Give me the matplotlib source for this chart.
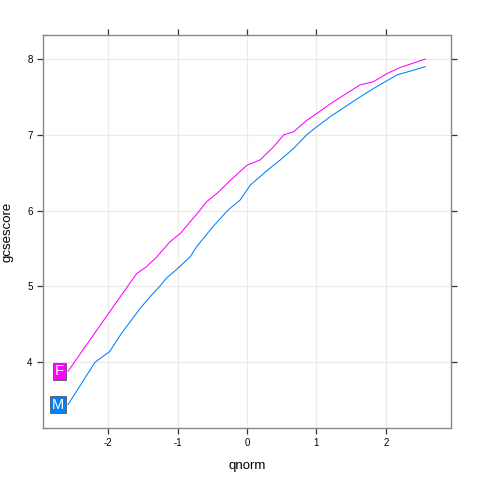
import matplotlib
matplotlib.use('Agg')
import matplotlib.pyplot as plt

plt.rcParams['font.family'] = ['Liberation Sans', 'DejaVu Sans']

# quantile points (qnorm, gcsescore)
f_q = [-2.58, -1.83, -1.59, -1.45, -1.30, -1.11, -0.96, -0.84, -0.70, -0.58,
       -0.43, -0.24, 0.00, 0.19, 0.38, 0.53, 0.67, 0.86, 1.08, 1.25,
       1.44, 1.63, 1.82, 2.02, 2.21, 2.57]
f_score = [3.88, 4.86, 5.17, 5.26, 5.39, 5.59, 5.70, 5.83, 5.98, 6.12,
           6.23, 6.40, 6.60, 6.67, 6.84, 7.00, 7.04, 7.19, 7.33, 7.44,
           7.55, 7.66, 7.70, 7.81, 7.89, 8.00]

m_q = [-2.58, -2.19, -1.98, -1.81, -1.54, -1.40, -1.26, -1.16, -1.02, -0.82,
       -0.73, -0.49, -0.27, -0.10, 0.05, 0.29, 0.48, 0.67, 0.86, 1.01,
       1.20, 1.53, 1.63, 1.82, 2.16, 2.57]
m_score = [3.44, 4.00, 4.14, 4.38, 4.71, 4.86, 5.00, 5.11, 5.22, 5.39,
           5.52, 5.79, 6.01, 6.14, 6.34, 6.53, 6.67, 6.82, 7.00, 7.11,
           7.24, 7.44, 7.50, 7.61, 7.79, 7.90]

groups = ['F', 'M']
colors = ['#FF00FF', '#0080FF']
xticks = [-2, -1, 0, 1, 2]
yticks = [4, 5, 6, 7, 8]

fig = plt.figure(figsize=(4.8, 4.8), dpi=100)
ax = fig.add_axes([0.0896, 0.1083, 0.85, 0.8187])

for g, xs, ys, c in zip(groups, [f_q, m_q], [f_score, m_score], colors):
    ax.plot(xs, ys, color=c, lw=0.75, zorder=3)
    ax.annotate(g, (xs[0], ys[0]), xytext=(-3, 0), textcoords='offset points',
                ha='right', va='center', color='white', fontsize=10.5,
                bbox=dict(boxstyle='square,pad=0.12', fc=c, ec='#555555', lw=0.6),
                zorder=4)

ax.set_xlim(-2.94, 2.94)
ax.set_ylim(3.132, 8.317)
ax.set_xticks(xticks)
ax.set_yticks(yticks)
ax.set_xticklabels([str(v) for v in xticks])
ax.set_yticklabels([str(v) for v in yticks])
ax.grid(True, color='#ebebeb', lw=0.9, zorder=0)
ax.set_axisbelow(True)

for s in ax.spines.values():
    s.set_color('#888888')
    s.set_linewidth(1.0)
ax.tick_params(direction='out', length=4, width=0.9, color='#333333',
               labelsize=7, top=True, right=True, labeltop=False, labelright=False)

ax.set_xlabel('qnorm', fontsize=9.5, labelpad=8)
ax.set_ylabel('gcsescore', fontsize=9.5, labelpad=10)

fig.savefig('out.png', dpi=100)
